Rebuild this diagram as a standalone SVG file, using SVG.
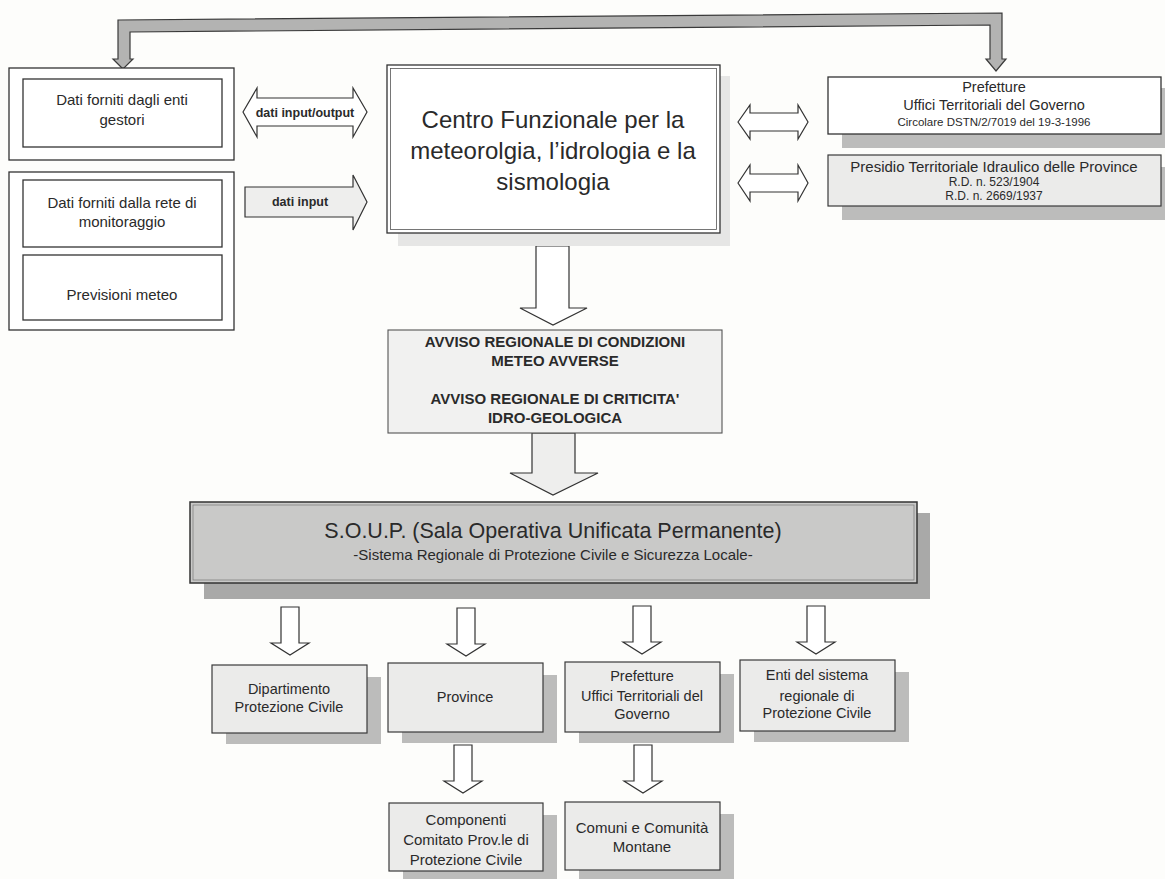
<svg xmlns="http://www.w3.org/2000/svg" width="1165" height="879" viewBox="0 0 1165 879">
<style>
  text { font-family: "Liberation Sans", Arial, sans-serif; fill: #2a2a2a; text-anchor: middle; }
  .box { fill: #ffffff; stroke: #333333; stroke-width: 1.3; }
  .gbox { fill: #ebebea; stroke: #3a3a3a; stroke-width: 1.2; }
  .shadow { fill: #bcbcbb; }
  .lshadow { fill: #e6e6e5; }
  .arr { fill: #ffffff; stroke: #333333; stroke-width: 1.2; stroke-linejoin: miter; }
  .arrg { fill: #eeeeed; stroke: #333333; stroke-width: 1.2; }
  .bar { fill: #b3b3b2; stroke: #3a3a3a; stroke-width: 1.2; }
  .t15 { font-size: 15px; }
  .t14 { font-size: 14.5px; }
  .t12 { font-size: 12px; }
  .t11 { font-size: 11.5px; }
  .lbl { font-size: 12.5px; font-weight: bold; }
  .avv { font-size: 15px; font-weight: bold; }
  .big { font-size: 24px; }
</style>
<defs>
  <path id="sdown" d="M-9,0 H9 V36 H19 L0,48 L-19,36 H-9 Z"/>
</defs>
<rect x="0" y="0" width="1165" height="879" fill="#fdfdfb"/>

<g id="connectors">
  <path class="bar" d="M123,69 L113,59 L118,59 L118,20 L1002,13 L1002,59 L1006,59 L996,71 L986,59 L990,59 L990,25 L130,32 L130,59 L133,59 Z"/>
  <polygon class="arr" points="243,112 257,88 257,98 353,98 353,88 367,112 353,137 353,126 257,126 257,137"/>
  <polygon class="arrg" points="245,187 353,187 353,175 367,202 353,230 353,217 245,217"/>
  <polygon class="arr" points="738,122 750,105 750,113 798,113 798,105 808,122 798,139 798,131 750,131 750,139"/>
  <polygon class="arr" points="738,183 750,165 750,174 798,174 798,165 808,183 798,201 798,192 750,192 750,201"/>
  <polygon class="arr" points="536,246 569,246 569,308 587,308 553,325 520,308 536,308"/>
  <polygon class="arrg" points="532,433 575,433 575,473 598,473 553,495 510,473 532,473"/>
  <use href="#sdown" class="arr" x="290" y="607"/>
  <use href="#sdown" class="arr" x="466" y="608"/>
  <use href="#sdown" class="arr" x="642" y="606"/>
  <use href="#sdown" class="arr" x="816" y="606"/>
  <use href="#sdown" class="arr" x="463" y="745"/>
  <use href="#sdown" class="arr" x="643" y="745"/>
  <text class="lbl" x="305" y="117">dati input/output</text>
  <text class="lbl" x="300" y="206">dati input</text>
</g>

<g id="dati-enti">
  <rect class="box" x="9" y="68" width="225" height="92"/>
  <rect class="box" x="23" y="79" width="199" height="68"/>
  <text class="t15" x="122" y="105">Dati forniti dagli enti</text>
  <text class="t15" x="122" y="125">gestori</text>
</g>

<g id="dati-rete">
  <rect class="box" x="9" y="172" width="225" height="158"/>
  <rect class="box" x="23" y="180" width="199" height="67"/>
  <text class="t15" x="122" y="208">Dati forniti dalla rete di</text>
  <text class="t15" x="122" y="227">monitoraggio</text>
  <g id="previsioni">
    <rect class="box" x="23" y="255" width="199" height="65"/>
    <text class="t15" x="122" y="300">Previsioni meteo</text>
  </g>
</g>

<g id="centro-funzionale">
  <rect class="lshadow" x="398" y="76" width="332" height="170"/>
  <rect class="box" x="387" y="65" width="333" height="168" stroke-width="1.6"/>
  <rect x="390.5" y="68.5" width="326" height="161" fill="none" stroke="#555" stroke-width="0.8"/>
  <text class="big" x="553" y="128">Centro Funzionale per la</text>
  <text class="big" x="553" y="159">meteorolgia, l’idrologia e la</text>
  <text class="big" x="553" y="190">sismologia</text>
</g>

<g id="prefetture-top">
  <rect class="shadow" x="842" y="88" width="323" height="60"/>
  <rect class="box" x="828" y="77" width="333" height="57"/>
  <text class="t14" x="994" y="92">Prefetture</text>
  <text class="t14" x="994" y="110">Uffici Territoriali del Governo</text>
  <text class="t11" x="994" y="126">Circolare DSTN/2/7019 del 19-3-1996</text>
</g>

<g id="presidio">
  <rect class="shadow" x="842" y="167" width="323" height="53"/>
  <rect class="gbox" x="828" y="155" width="333" height="51"/>
  <text class="t15" x="994" y="172">Presidio Territoriale Idraulico delle Province</text>
  <text class="t12" x="994" y="186">R.D.  n. 523/1904</text>
  <text class="t12" x="994" y="200">R.D.  n. 2669/1937</text>
</g>

<g id="avviso">
  <rect x="388" y="330" width="334" height="103" fill="#f1f1f0" stroke="#555" stroke-width="1.1"/>
  <text class="avv" x="555" y="347">AVVISO REGIONALE DI CONDIZIONI</text>
  <text class="avv" x="555" y="366">METEO AVVERSE</text>
  <text class="avv" x="555" y="404">AVVISO REGIONALE DI CRITICITA'</text>
  <text class="avv" x="555" y="423">IDRO-GEOLOGICA</text>
</g>

<g id="soup">
  <rect fill="#a9a9a8" x="204" y="513" width="726" height="86"/>
  <rect x="190" y="502" width="727" height="81" fill="#c9c9c8" stroke="#333" stroke-width="1.5"/>
  <rect x="193" y="505" width="721" height="75" fill="none" stroke="#777" stroke-width="0.7"/>
  <text x="553" y="538" font-size="21.5px" fill="#333">S.O.U.P. (Sala Operativa Unificata Permanente)</text>
  <text x="553" y="560" font-size="15px" fill="#333">-Sistema Regionale di Protezione Civile e Sicurezza Locale-</text>
</g>

<g id="dipartimento">
  <rect class="shadow" x="226" y="677" width="155" height="67"/>
  <rect class="gbox" x="212" y="665" width="155" height="68"/>
  <text class="t14" x="289" y="694">Dipartimento</text>
  <text class="t14" x="289" y="712">Protezione Civile</text>
</g>

<g id="province">
  <rect class="shadow" x="402" y="675" width="155" height="68"/>
  <rect class="gbox" x="388" y="663" width="155" height="69"/>
  <text class="t14" x="465" y="702">Province</text>
</g>

<g id="prefetture-bottom">
  <rect class="shadow" x="579" y="674" width="155" height="69"/>
  <rect class="gbox" x="565" y="662" width="155" height="70"/>
  <text class="t14" x="642" y="681">Prefetture</text>
  <text class="t14" x="642" y="701">Uffici Territoriali del</text>
  <text class="t14" x="642" y="719">Governo</text>
</g>

<g id="enti-sistema">
  <rect class="shadow" x="754" y="672" width="155" height="70"/>
  <rect class="gbox" x="740" y="660" width="155" height="71"/>
  <text class="t14" x="817" y="680">Enti del sistema</text>
  <text class="t14" x="817" y="701">regionale di</text>
  <text class="t14" x="817" y="718">Protezione Civile</text>
</g>

<g id="componenti">
  <rect class="shadow" x="403" y="815" width="154" height="64"/>
  <rect class="gbox" x="389" y="803" width="154" height="68"/>
  <text class="t15" x="466" y="825">Componenti</text>
  <text class="t15" x="466" y="845">Comitato Prov.le di</text>
  <text class="t15" x="466" y="865">Protezione Civile</text>
</g>

<g id="comuni">
  <rect class="shadow" x="579" y="814" width="155" height="65"/>
  <rect class="gbox" x="565" y="802" width="155" height="68"/>
  <text class="t15" x="642" y="833">Comuni e Comunità</text>
  <text class="t15" x="642" y="852">Montane</text>
</g>
</svg>
